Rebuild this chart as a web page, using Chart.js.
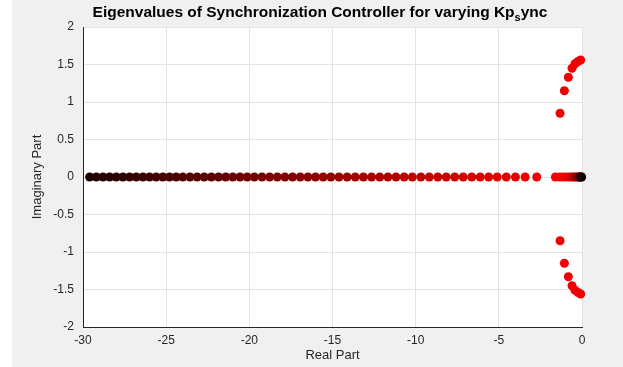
<!DOCTYPE html>
<html>
<head>
<meta charset="utf-8">
<script src="https://cdn.jsdelivr.net/npm/chart.js@4"></script>
<style>
  html, body { margin: 0; padding: 0; background: #fff; }
  #wrap { width: 623px; height: 367px; }
</style>
</head>
<body>
<div id="wrap"><canvas id="eigChart" width="623" height="367"></canvas></div>
<script>
// eigenvalue locus
const farBranchRe = [
  -29.6, -29.2, -28.8, -28.4, -28.0, -27.6, -27.2, -26.8, -26.4, -26.0,
  -25.6, -25.2, -24.8, -24.4, -24.0, -23.57, -23.14, -22.71, -22.28, -21.85,
  -21.42, -20.99, -20.56, -20.13, -19.7, -19.24, -18.78, -18.32, -17.86, -17.4,
  -16.94, -16.48, -16.02, -15.56, -15.1, -14.61, -14.12, -13.63, -13.14, -12.65,
  -12.16, -11.67, -11.18, -10.69, -10.2, -9.69, -9.18, -8.67, -8.16, -7.65,
  -7.14, -6.63, -6.12, -5.61, -5.1, -4.55, -4.0, -3.42, -2.72
];
// real branch near the origin, listed from left (red) to 0 (black)
const nearBranchRe = [-1.6, -1.32, -1.1, -0.9, -0.72, -0.57, -0.44, -0.33, -0.24, -0.16, -0.1, -0.05, -0.02];
// complex pair (upper half, lower half is the mirror)
const complexRe = [-1.32, -1.06, -0.82, -0.6, -0.42, -0.24, -0.08];
const complexIm = [0.85, 1.15, 1.33, 1.45, 1.51, 1.54, 1.56];

const xTicks = [-30, -25, -20, -15, -10, -5, 0];
const yTicks = [2, 1.5, 1, 0.5, 0, -0.5, -1, -1.5, -2];

const FONT = '"Liberation Sans", Arial, Helvetica, sans-serif';
const TXT = '#262626';

const redShade = (t) => 'rgb(' + Math.round(t * 255) + ',0,0)';

const farData = farBranchRe.map((x) => ({ x, y: 0 }));
const nearData = nearBranchRe.map((x) => ({ x, y: 0 }));
const upperData = complexRe.map((x, i) => ({ x, y: complexIm[i] }));
const lowerData = complexRe.map((x, i) => ({ x, y: -complexIm[i] }));

// background: grey figure, white axes box, title with subscript
const figurePlugin = {
  id: 'figure',
  beforeDraw(chart) {
    const { ctx, chartArea: a } = chart;
    ctx.save();
    ctx.fillStyle = '#f0f0f0';
    ctx.fillRect(12, 0, chart.width - 12, chart.height);
    ctx.fillStyle = '#ffffff';
    ctx.fillRect(a.left, a.top, a.right - a.left, a.bottom - a.top);
    ctx.restore();
  },
  afterDraw(chart) {
    const { ctx } = chart;
    ctx.save();
    const main = 'Eigenvalues of Synchronization Controller for varying Kp';
    const big = 'bold 15.5px ' + FONT;
    const small = 'bold 11px ' + FONT;
    ctx.font = big;
    const w1 = ctx.measureText(main).width;
    const w3 = ctx.measureText('ync').width;
    ctx.font = small;
    const w2 = ctx.measureText('s').width;
    const total = w1 + w2 + w3;
    let x = 320 - total / 2;
    const y = 13;
    ctx.fillStyle = '#000';
    ctx.textBaseline = 'middle';
    ctx.textAlign = 'left';
    ctx.font = big;
    ctx.fillText(main, x, y);
    x += w1;
    ctx.font = small;
    ctx.fillText('s', x, y + 5);
    x += w2;
    ctx.font = big;
    ctx.fillText('ync', x, y);
    ctx.restore();
  }
};

const pointSet = (label, data, color) => ({
  label,
  data,
  clip: false,
  pointRadius: 4.5,
  pointBorderWidth: 0,
  pointBackgroundColor: color,
});

new Chart(document.getElementById('eigChart').getContext('2d'), {
  type: 'scatter',
  data: {
    datasets: [
      pointSet('far', farData, (c) => redShade(0.12 + 0.82 * c.dataIndex / (farData.length - 1))),
      pointSet('near', nearData, (c) => redShade(1 - 0.92 * Math.pow(c.dataIndex / (nearData.length - 1), 1.6))),
      pointSet('upper', upperData, '#f00000'),
      pointSet('lower', lowerData, '#f00000'),
    ],
  },
  options: {
    responsive: false,
    animation: false,
    layout: { padding: { left: 0, right: 41, top: 27, bottom: 0 } },
    plugins: {
      legend: { display: false },
      tooltip: { enabled: false },
    },
    scales: {
      x: {
        type: 'linear',
        min: -30,
        max: 0,
        afterFit: (s) => { s.height = 40; },
        afterBuildTicks: (s) => { s.ticks = xTicks.map((v) => ({ value: v })); },
        grid: { color: '#e3e3e3', drawTicks: false },
        border: { color: '#262626', width: 1 },
        ticks: { color: TXT, font: { family: FONT, size: 12 }, padding: 6, maxRotation: 0, callback: (v) => String(v) },
        title: { display: true, text: 'Real Part', color: TXT, font: { family: FONT, size: 13 }, padding: { top: 0, bottom: 4 } },
      },
      y: {
        type: 'linear',
        min: -2,
        max: 2,
        afterFit: (s) => { s.width = 83; },
        afterBuildTicks: (s) => { s.ticks = yTicks.map((v) => ({ value: v })); },
        grid: { color: '#e3e3e3', drawTicks: false },
        border: { color: '#262626', width: 1 },
        ticks: { color: TXT, font: { family: FONT, size: 12 }, padding: 9, callback: (v) => String(v) },
        title: { display: true, text: 'Imaginary Part', color: TXT, font: { family: FONT, size: 13 }, padding: { top: 30, bottom: 0 } },
      },
    },
  },
  plugins: [figurePlugin],
});
</script>
</body>
</html>
